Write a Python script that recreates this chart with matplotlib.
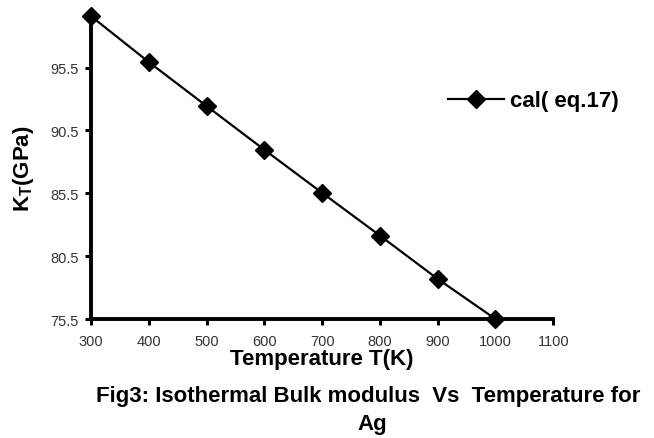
import matplotlib.pyplot as plt

plt.rcParams['font.family'] = ['Liberation Sans', 'DejaVu Sans']

# Isothermal bulk modulus of Ag vs temperature
temperature = [300, 400, 500, 600, 700, 800, 900, 1000]
bulk_modulus = [99.6, 95.95, 92.45, 88.97, 85.54, 82.14, 78.69, 75.5]
x_ticks = [300, 400, 500, 600, 700, 800, 900, 1000, 1100]
y_ticks = [75.5, 80.5, 85.5, 90.5, 95.5]

fig = plt.figure(figsize=(6.54, 4.39), dpi=100)
ax = fig.add_axes([0.139, 0.271, 0.707, 0.69])

ax.plot(temperature, bulk_modulus, color='black', linewidth=1.6,
        marker='D', markersize=9, markerfacecolor='black', label='cal( eq.17)',
        clip_on=False, zorder=5)

ax.set_xlim(300, 1100)
ax.set_ylim(75.5, 99.6)
ax.set_xticks(x_ticks)
ax.set_yticks(y_ticks)
ax.set_yticklabels([f'{v:.1f}' for v in y_ticks])

for side in ['top', 'right']:
    ax.spines[side].set_visible(False)
for side in ['left', 'bottom']:
    ax.spines[side].set_linewidth(2.8)
ax.tick_params(direction='out', length=4, width=2.2, labelsize=10.5,
               labelcolor='#333333')
ax.tick_params(axis='x', pad=7)
ax.tick_params(axis='y', pad=5)

ax.set_xlabel('Temperature T(K)', fontsize=16, fontweight='bold', labelpad=0)
ax.set_ylabel(r'K$_\mathregular{T}$(GPa)', fontsize=16, fontweight='bold', labelpad=10)

ax.legend(loc='center left', bbox_to_anchor=(0.73, 0.72), frameon=False,
          prop={'weight': 'bold', 'size': 16},
          handlelength=2.5, handletextpad=0.25)

fig.text(0.563, 0.096, 'Fig3: Isothermal Bulk modulus  Vs  Temperature for',
         ha='center', va='center', fontsize=16, fontweight='bold')
fig.text(0.569, 0.032, 'Ag', ha='center', va='center', fontsize=16, fontweight='bold')

fig.savefig('out.png', dpi=100)
